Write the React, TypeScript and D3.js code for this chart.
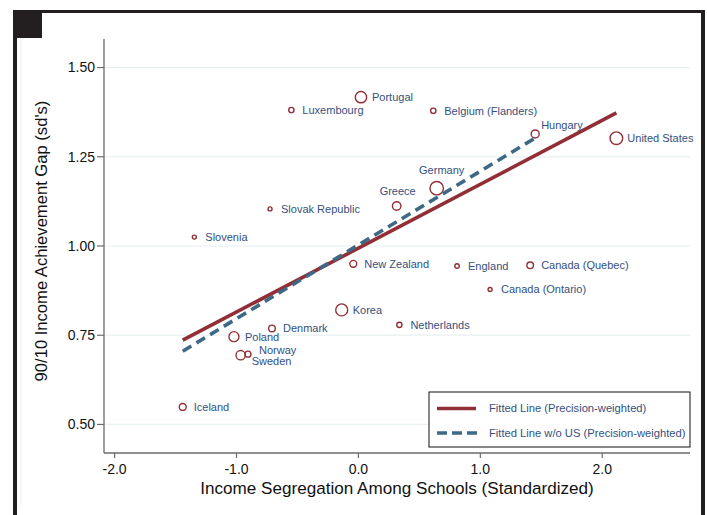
import React, {JSX} from "react";
import * as d3 from "d3";

// country-level data
const countries = [
    "Portugal", "Luxembourg", "Belgium (Flanders)", "Hungary", "United States",
    "Germany", "Greece", "Slovak Republic", "Slovenia", "New Zealand",
    "England", "Canada (Quebec)", "Canada (Ontario)", "Korea", "Netherlands",
    "Denmark", "Poland", "Sweden", "Norway", "Iceland",
];
const segregation = [
    0.021, -0.550, 0.614, 1.450, 2.116,
    0.642, 0.314, -0.725, -1.346, -0.042,
    0.809, 1.409, 1.080, -0.137, 0.336,
    -0.709, -1.021, -0.966, -0.906, -1.441,
];
const gap = [
    1.417, 1.381, 1.379, 1.314, 1.302,
    1.162, 1.112, 1.104, 1.025, 0.950,
    0.944, 0.946, 0.878, 0.821, 0.779,
    0.769, 0.746, 0.694, 0.697, 0.549,
];
const weight = [
    32, 7, 7, 16, 40,
    45, 18, 4, 4, 12,
    5, 11, 4, 36, 7,
    11, 25, 22, 9, 12,
];

// fitted lines (intercept, slope)
const fitAll = {a: 0.994, b: 0.179};
const fitNoUS = {a: 1.003, b: 0.2066};

const yTicks = [0.5, 0.75, 1.0, 1.25, 1.5];
const xTicks = [-2, -1, 0, 1, 2];

// label placement overrides (default: right of marker)
const labelOffsets: Record<string, [number, number, string]> = {
    "Germany": [5, -17.6, "middle"],
    "Greece": [1, -15, "middle"],
    "Hungary": [6, -9, "start"],
    "Norway": [11, -4, "start"],
    "Sweden": [11, 5.5, "start"],
};

const RED = "#922f36";
const BLUE = "#3e6986";
const LABEL = "#34507e";
const FONT = "'Liberation Sans', Arial, sans-serif";

export default function App(): JSX.Element {
    const width = 707;
    const height = 515;
    const left = 104, right = 690, top = 39, bottom = 453;

    const x = d3.scaleLinear([-2.087, 2.72], [left, right]);
    const y = d3.scaleLinear([0.42, 1.58], [bottom, top]);
    const r = d3.scaleSqrt([0, 45], [0, 6.7]);

    const pts = countries.map((c, i) => ({c, x: segregation[i], y: gap[i], w: weight[i]}));
    const noUS = pts.filter(p => p.c !== "United States");

    const fitLine = (data: typeof pts, f: {a: number, b: number}) => {
        const [x0, x1] = d3.extent(data, d => d.x) as [number, number];
        return d3.line<number>(d => x(d), d => y(f.a + f.b * d))([x0, x1]) as string;
    };

    return (
        <svg width={width} height={height} style={{position: "absolute", left: 0, top: 0, background: "#fff"}}
             fontFamily={FONT}>
            {/* outer frame */}
            <rect x={13} y={10} width={692} height={3} fill="#231f20"/>
            <rect x={13} y={10} width={4} height={505} fill="#231f20"/>
            <rect x={701} y={10} width={4} height={505} fill="#231f20"/>
            <rect x={17} y={13} width={25} height={25} fill="#231f20"/>
            <line x1={21} x2={21} y1={38} y2={505} stroke="#e4eeee" strokeWidth={1}/>

            {/* gridlines */}
            {yTicks.map(t => (
                <line key={t} x1={left} x2={right} y1={y(t)} y2={y(t)} stroke="#e8f0f1" strokeWidth={1.2}/>
            ))}

            {/* axes */}
            <line x1={left} x2={left} y1={top} y2={bottom} stroke="#6b6b6b" strokeWidth={1.3}/>
            <line x1={left} x2={right} y1={bottom} y2={bottom} stroke="#6b6b6b" strokeWidth={1.3}/>
            {yTicks.map(t => (
                <g key={t}>
                    <line x1={left - 7} x2={left} y1={y(t)} y2={y(t)} stroke="#6b6b6b" strokeWidth={1.2}/>
                    <text x={left - 9} y={y(t)} dy="0.35em" textAnchor="end" fontSize={14} fill="#111">
                        {d3.format(".2f")(t)}
                    </text>
                </g>
            ))}
            {xTicks.map(t => (
                <g key={t}>
                    <line x1={x(t)} x2={x(t)} y1={bottom} y2={bottom + 5} stroke="#6b6b6b" strokeWidth={1.2}/>
                    <text x={x(t)} y={473.5} textAnchor="middle" fontSize={14} fill="#111">
                        {d3.format(".1f")(t).replace("−", "-")}
                    </text>
                </g>
            ))}
            <text x={(left + right) / 2} y={494} textAnchor="middle" fontSize={17.1} fill="#111">
                Income Segregation Among Schools (Standardized)
            </text>
            <text transform={`translate(47,241) rotate(-90)`} textAnchor="middle" fontSize={16.6} fill="#111">
                90/10 Income Achievement Gap (sd's)
            </text>

            {/* scatter */}
            {pts.map(p => {
                const cx = x(p.x), cy = y(p.y);
                const [dx, dy, anchor] = labelOffsets[p.c] ?? [11, 0, "start"];
                return (
                    <g key={p.c}>
                        <circle cx={cx} cy={cy} r={r(p.w)} fill="none" stroke={RED} strokeWidth={1.4}/>
                        <text x={cx + dx} y={cy + dy} dy="0.35em" textAnchor={anchor as any}
                              fontSize={11} fill={LABEL}>{p.c}</text>
                    </g>
                );
            })}

            {/* fitted lines */}
            <path d={fitLine(pts, fitAll)} stroke={RED} strokeWidth={3.6} fill="none"/>
            <path d={fitLine(noUS, fitNoUS)} stroke={BLUE} strokeWidth={3.6} fill="none" strokeDasharray="10 6"/>

            {/* legend */}
            <rect x={429} y={392} width={261} height={55} fill="#fff" stroke="#111" strokeWidth={1}/>
            <line x1={437} x2={476} y1={408.5} y2={408.5} stroke={RED} strokeWidth={3.6}/>
            <text x={489} y={408.5} dy="0.35em" fontSize={11.2} fill={LABEL}>Fitted Line (Precision-weighted)</text>
            <line x1={437} x2={477} y1={433} y2={433} stroke={BLUE} strokeWidth={3.6} strokeDasharray="10 5"/>
            <text x={489} y={433} dy="0.35em" fontSize={11.2} fill={LABEL}>Fitted Line w/o US (Precision-weighted)</text>
        </svg>
    );
}
